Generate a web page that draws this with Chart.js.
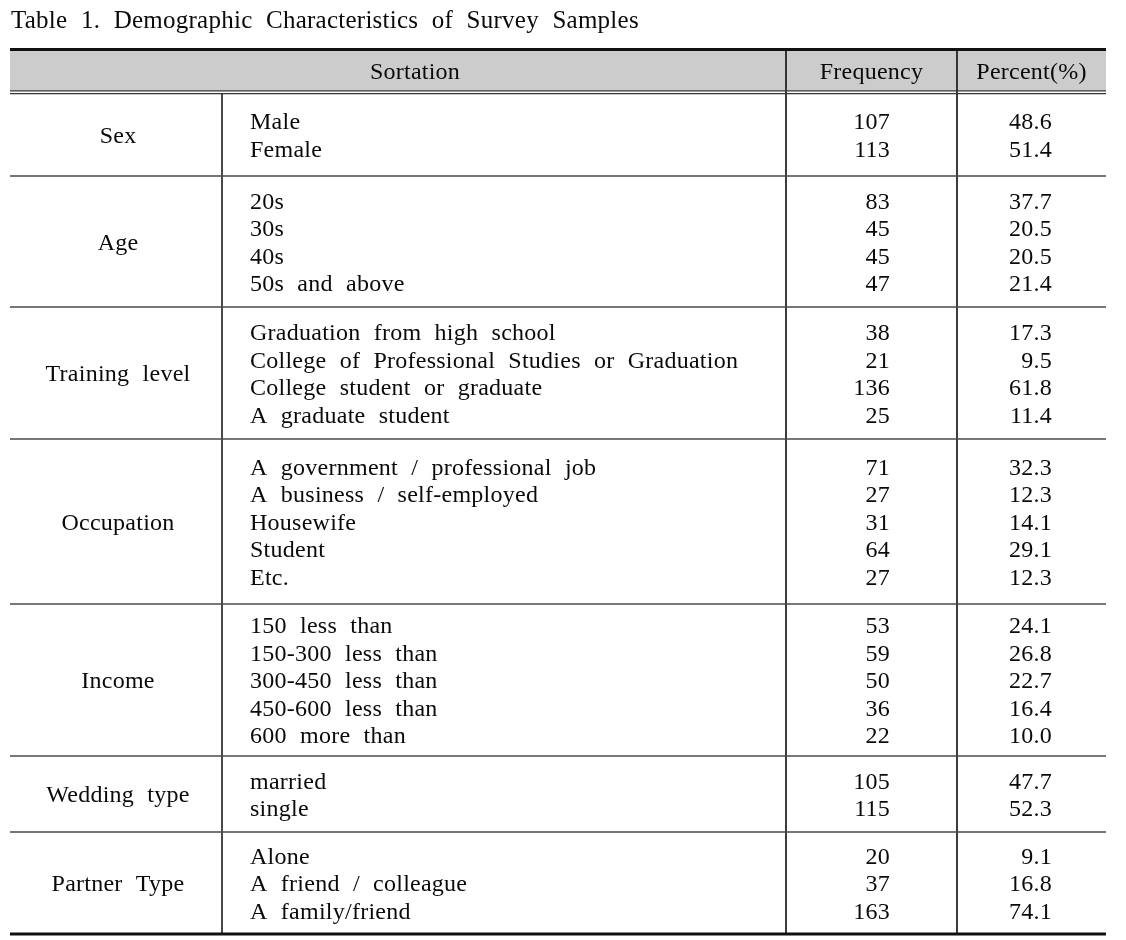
<!DOCTYPE html>
<html>
<head>
<meta charset="utf-8">
<script src="https://cdn.jsdelivr.net/npm/chart.js@4"></script>
<style>
html,body{margin:0;padding:0;background:#ffffff;}
#wrap{width:1126px;height:940px;}
</style>
</head>
<body>
<div id="wrap"><canvas id="c" width="1126" height="940"></canvas></div>
<script>
// ---- data ----
const title = 'Table 1. Demographic Characteristics of Survey Samples';
const headers = ['Sortation', 'Frequency', 'Percent(%)'];
const categories = ['Sex', 'Age', 'Training level', 'Occupation', 'Income', 'Wedding type', 'Partner Type'];
const itemLabels = [
  ['Male', 'Female'],
  ['20s', '30s', '40s', '50s and above'],
  ['Graduation from high school', 'College of Professional Studies or Graduation', 'College student or graduate', 'A graduate student'],
  ['A government / professional job', 'A business / self-employed', 'Housewife', 'Student', 'Etc.'],
  ['150 less than', '150-300 less than', '300-450 less than', '450-600 less than', '600 more than'],
  ['married', 'single'],
  ['Alone', 'A friend / colleague', 'A family/friend']
];
const frequency = [
  [107, 113],
  [83, 45, 45, 47],
  [38, 21, 136, 25],
  [71, 27, 31, 64, 27],
  [53, 59, 50, 36, 22],
  [105, 115],
  [20, 37, 163]
];
const percent = [
  [48.6, 51.4],
  [37.7, 20.5, 20.5, 21.4],
  [17.3, 9.5, 61.8, 11.4],
  [32.3, 12.3, 14.1, 29.1, 12.3],
  [24.1, 26.8, 22.7, 16.4, 10.0],
  [47.7, 52.3],
  [9.1, 16.8, 74.1]
];

// ---- layout (scale units) ----
const LAYOUT = {
  left: 10, right: 1106, col1: 222, col2: 786, col3: 957,
  topLine: 49.5, headBottom: 90.5,
  sectionEdges: [93.5, 176, 307, 439, 604, 756, 832, 934],
  pitch: 27.5, textShift: 2,
  itemX: 250, freqRight: 890, pctRight: 1052, catX: 118,
  sortX: 415, titleX: 11, titleY: 28, headY: 73
};
const FONT = '"Liberation Serif", "Times New Roman", serif';

const tablePlugin = {
  id: 'tablePlugin',
  afterDraw(chart) {
    const ctx = chart.ctx;
    const xs = chart.scales.x, ys = chart.scales.y;
    const X = v => xs.getPixelForValue(v);
    const Y = v => ys.getPixelForValue(v);
    const L = LAYOUT;
    ctx.save();
    const setText = (size) => {
      ctx.font = size + 'px ' + FONT;
      try { ctx.letterSpacing = '0.25px'; ctx.wordSpacing = '7px'; } catch (e) {}
      ctx.fillStyle = '#0a0a0a';
    };
    // title
    setText(25);
    ctx.textAlign = 'left'; ctx.textBaseline = 'alphabetic';
    ctx.fillText(title, X(L.titleX), Y(L.titleY));

    // header background
    ctx.fillStyle = '#cccccc';
    ctx.fillRect(X(L.left), Y(L.topLine), X(L.right) - X(L.left), Y(L.headBottom) - Y(L.topLine));

    const hline = (y, w, color, x0, x1) => {
      ctx.strokeStyle = color; ctx.lineWidth = w;
      ctx.beginPath(); ctx.moveTo(X(x0 ?? L.left), Y(y)); ctx.lineTo(X(x1 ?? L.right), Y(y)); ctx.stroke();
    };
    const vline = (x, y0, y1, w, color) => {
      ctx.strokeStyle = color; ctx.lineWidth = w;
      ctx.beginPath(); ctx.moveTo(X(x), Y(y0)); ctx.lineTo(X(x), Y(y1)); ctx.stroke();
    };
    const edges = L.sectionEdges;
    const bottom = edges[edges.length - 1];

    // vertical lines
    vline(L.col2, L.topLine, bottom, 1.7, '#1a1a1a');
    vline(L.col3, L.topLine, bottom, 1.7, '#1a1a1a');
    vline(L.col1, edges[0], bottom, 1.7, '#2a2a2a');

    // top thick line, header double line
    hline(L.topLine, 3, '#111111');
    hline(L.headBottom + 0.3, 1.3, '#333333');
    hline(L.headBottom + 3.2, 1.3, '#333333');
    // section separators
    for (let i = 1; i < edges.length - 1; i++) hline(edges[i], 1.6, '#4a4a4a');
    // bottom thick line
    hline(bottom, 3.2, '#111111');

    // header texts
    setText(24);
    ctx.textBaseline = 'middle'; ctx.textAlign = 'center';
    ctx.fillText(headers[0], X(L.sortX), Y(L.headY));
    ctx.fillText(headers[1], X((L.col2 + L.col3) / 2), Y(L.headY));
    ctx.fillText(headers[2], X((L.col3 + L.right) / 2), Y(L.headY));

    // body
    categories.forEach((cat, s) => {
      const y0 = edges[s], y1 = edges[s + 1];
      const mid = (y0 + y1) / 2 + L.textShift;
      const n = itemLabels[s].length;
      ctx.textAlign = 'center';
      ctx.fillText(cat, X(L.catX), Y(mid));
      for (let r = 0; r < n; r++) {
        const yy = mid + (r - (n - 1) / 2) * L.pitch;
        ctx.textAlign = 'left';
        ctx.fillText(itemLabels[s][r], X(L.itemX), Y(yy));
        ctx.textAlign = 'right';
        ctx.fillText(String(frequency[s][r]), X(L.freqRight), Y(yy));
        ctx.fillText(percent[s][r].toFixed(1), X(L.pctRight), Y(yy));
      }
    });
    ctx.restore();
  }
};

new Chart(document.getElementById('c'), {
  type: 'scatter',
  data: { datasets: [] },
  options: {
    responsive: false,
    animation: false,
    devicePixelRatio: 1,
    layout: { padding: 0 },
    plugins: { legend: { display: false }, tooltip: { enabled: false }, title: { display: false } },
    scales: {
      x: { type: 'linear', min: 0, max: 1126, display: false },
      y: { type: 'linear', min: 0, max: 940, reverse: true, display: false }
    }
  },
  plugins: [tablePlugin]
});
</script>
</body>
</html>
